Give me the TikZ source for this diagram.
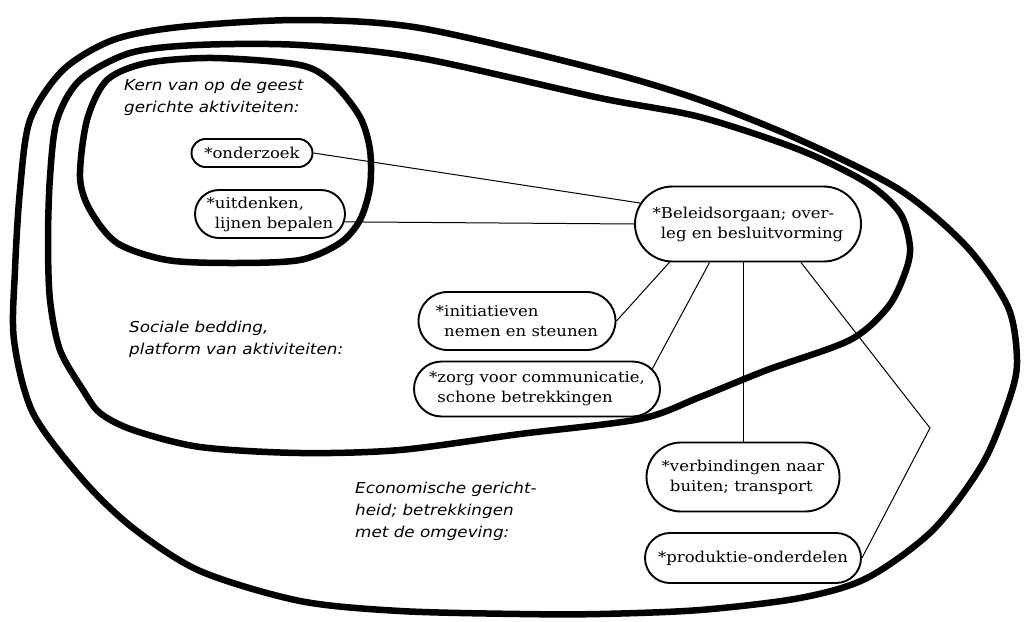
\documentclass[tikz,border=0pt]{standalone}
\usepackage{fontspec}
\newfontfamily\itemfont[FakeStretch=1.1]{DejaVu Serif}
\newfontfamily\areafont[FakeStretch=1.12]{DejaVu Sans}
\usetikzlibrary{shapes.misc}

\tikzset{
  blob/.style={line width=6.5pt, line join=round},
  item/.style={draw, rounded rectangle, line width=1.9pt, align=left,
    inner xsep=2pt, inner ysep=3pt, font=\itemfont\fontsize{15}{20}\selectfont},
  area/.style={anchor=north west, align=left, inner sep=0pt,
    font=\areafont\itshape\fontsize{15}{22}\selectfont},
  link/.style={line width=1pt}
}
\newcommand{\ind}{\hphantom{*}}

\begin{document}
\begin{tikzpicture}[x=1pt,y=-1pt]
  \useasboundingbox (0,0) rectangle (1024,621);

  % outer ring: economische gerichtheid
  \draw[blob] plot[smooth cycle] coordinates {
    (113,40) (180,27) (300,20) (420,28) (600,70) (700,100) (800,140)
    (900,190) (967,247) (1008,307) (1017,360) (1010,397) (983,463)
    (933,530) (867,578) (800,598) (700,610) (600,614) (520,614)
    (400,611) (300,601) (200,571) (133,528) (83,480) (33,413)
    (14,340) (15,270) (20,190) (30,120) (63,70)};
  % middle ring: sociale bedding
  \draw[blob] plot[smooth cycle] coordinates {
    (130,53) (197,45) (300,45) (420,58) (600,98) (700,117) (800,150)
    (867,183) (900,213) (910,247) (905,273) (888,307) (850,340)
    (767,370) (700,397) (640,419) (520,434) (400,450) (300,453)
    (200,447) (133,430) (100,413) (83,390) (60,350) (50,300)
    (48,240) (50,177) (57,120) (80,80)};
  % inner ring: kern
  \draw[blob] plot[smooth cycle] coordinates {
    (147,63) (213,58) (300,65) (333,83) (360,117) (370,150)
    (370,187) (360,220) (340,243) (300,260) (233,263) (167,260)
    (117,243) (90,210) (80,177) (87,120) (107,80)};

  % area labels
  \node[area] (kern) at (124,79) {Kern van op de geest\\gerichte aktiviteiten:};
  \node[area] (sociaal) at (129,321) {Sociale bedding,\\platform van aktiviteiten:};
  \node[area] (economie) at (355,482) {Economische gericht-\\heid; betrekkingen\\met de omgeving:};

  % items
  \node[item, minimum width=125pt, minimum height=28pt] (onderzoek) at (252,153) {*onderzoek};
  \node[item, minimum width=154pt, minimum height=48pt] (uitdenken) at (270,214) {*uitdenken,\\\ind lijnen bepalen};
  \node[item, minimum width=230pt, minimum height=75pt] (beleid) at (748,224) {*Beleidsorgaan; over-\\\ind leg en besluitvorming};
  \node[item, minimum width=201pt, minimum height=58pt] (initiatief) at (517,321) {*initiatieven\\\ind nemen en steunen};
  \node[item, minimum width=250pt, minimum height=55pt] (zorg) at (537,389) {*zorg voor communicatie,\\\ind schone betrekkingen};
  \node[item, minimum width=197pt, minimum height=69pt] (verbinding) at (743,477) {*verbindingen naar\\\ind buiten; transport};
  \node[item, minimum width=220pt, minimum height=50pt] (produktie) at (753,558) {*produktie-onderdelen};
  \coordinate (knik) at (930,428);

  % links from the beleidsorgaan
  \foreach \a/\t in {169/onderzoek.east, 180/uitdenken.-6, -154/initiatief.east, -135/zorg.10}
    \draw[link] (beleid.\a) -- (\t);
  \draw[link] (verbinding.north) -- (verbinding.north |- beleid.south);
  \draw[link] (beleid.-36) -- (knik) -- (produktie.east);
\end{tikzpicture}
\end{document}
